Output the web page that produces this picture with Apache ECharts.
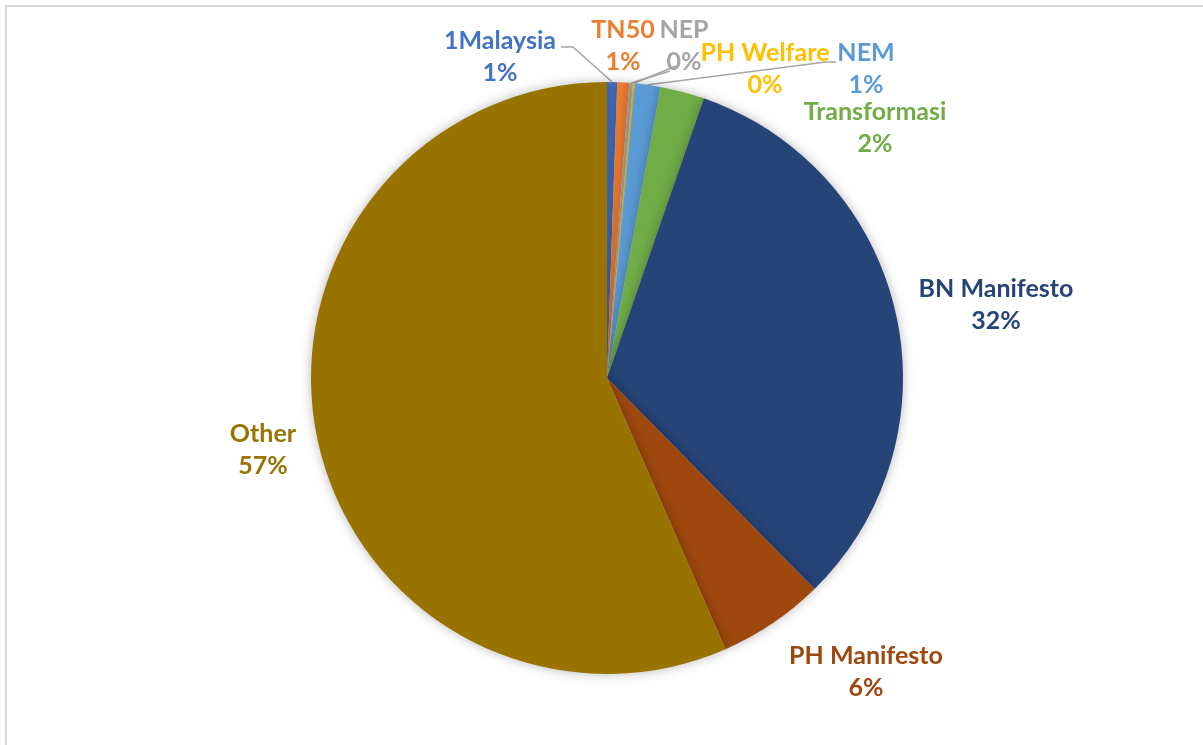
<!DOCTYPE html>
<html>
<head>
<meta charset="utf-8">
<title>Pie</title>
<script src="https://cdn.jsdelivr.net/npm/echarts@6/dist/echarts.min.js"></script>
<style>
  html, body { margin: 0; padding: 0; background: #fff; }
  /* light grey frame like the pasted chart box */
  #frame { position: absolute; left: 5px; top: 5px; width: 1205px; height: 750px;
           border: 2px solid #d9d9d9; box-sizing: border-box; }
  #main { position: absolute; left: 0; top: 0; width: 1203px; height: 745px; }
</style>
</head>
<body>
<div id="frame"></div>
<div id="main"></div>
<script>
// data (share in %)
var names = ['1Malaysia', 'TN50', 'NEP', 'PH Welfare', 'NEM', 'Transformasi', 'BN Manifesto', 'PH Manifesto', 'Other'];
var values = [0.55, 0.65, 0.2, 0.1, 1.4, 2.4, 32.3, 5.8, 56.5];
var colors = ['#4472C4', '#ED7D31', '#A5A5A5', '#FFC000', '#5B9BD5', '#70AD47', '#264478', '#9E480E', '#997300'];

// label block centres and leader end points (null = no line)
var labelPos = [[500, 57], [623, 46], [684, 46], [765, 69], [866, 69], [875, 128], [996, 305], [866, 672], [263, 450]];
var leaderEnd = [
  [[573, 47], [561, 47]],
  null,
  [[670, 71]],
  [[676, 66]],
  [[826, 62], [836, 62]],
  null, null, null, null
];

var chart = echarts.init(document.getElementById('main'));

var pieData = names.map(function (n, i) {
  return {
    name: n,
    value: values[i],
    itemStyle: { color: colors[i] },
    label: { color: colors[i] },
    labelLine: { show: leaderEnd[i] != null }
  };
});

chart.setOption({
  animation: false,
  series: [{
    type: 'pie',
    center: [607, 378],
    radius: 296,
    startAngle: 90,
    clockwise: true,
    avoidLabelOverlap: false,
    data: pieData,
    itemStyle: {
      borderWidth: 0,
      shadowBlur: 12,
      shadowColor: 'rgba(0,0,0,0.28)'
    },
    label: {
      position: 'outside',
      fontFamily: 'Lato',
      fontWeight: 'bold',
      fontSize: 25,
      lineHeight: 32,
      align: 'center',
      formatter: function (p) {
        return p.name + '\n' + Math.round(p.percent) + '%';
      }
    },
    labelLine: {
      length: 10,
      length2: 10,
      lineStyle: { color: '#A6A6A6', width: 1.5 }
    },
    labelLayout: function (p) {
      var i = p.dataIndex;
      var out = {
        x: labelPos[i][0],
        y: labelPos[i][1],
        align: 'center',
        verticalAlign: 'middle'
      };
      if (leaderEnd[i] && p.labelLinePoints) {
        out.labelLinePoints = [p.labelLinePoints[0]].concat(leaderEnd[i]);
      }
      return out;
    }
  }]
});
</script>
</body>
</html>
